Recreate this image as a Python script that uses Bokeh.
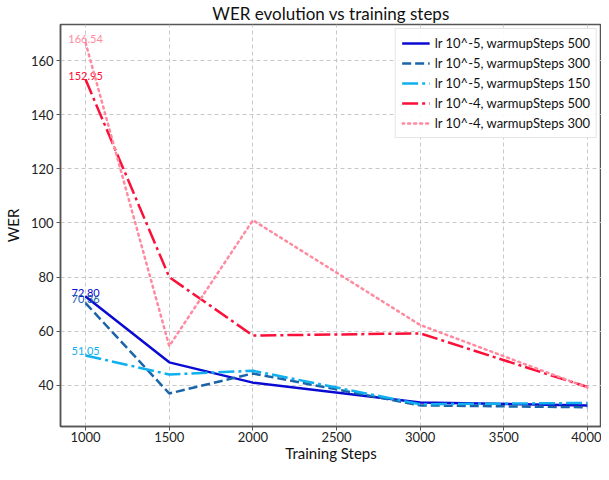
from bokeh.plotting import figure
from bokeh.models import Range1d, ColumnDataSource, Legend, LegendItem
from bokeh.core.properties import value
from bokeh.embed import file_html
from bokeh.resources import INLINE

steps = [1000, 1500, 2000, 3000, 4000]
wer_5_500 = [72.80, 48.5, 41.0, 33.7, 32.6]
wer_5_300 = [70.36, 37.0, 44.4, 32.6, 31.9]
wer_5_150 = [51.05, 44.0, 45.4, 33.0, 33.5]
wer_4_500 = [152.95, 80.0, 58.4, 59.2, 39.4]
wer_4_300 = [166.54, 54.5, 101.0, 62.3, 39.2]

labels = ["lr 10^-5, warmupSteps 500", "lr 10^-5, warmupSteps 300",
          "lr 10^-5, warmupSteps 150", "lr 10^-4, warmupSteps 500",
          "lr 10^-4, warmupSteps 300"]
series = [wer_5_500, wer_5_300, wer_5_150, wer_4_500, wer_4_300]
colors = ["#0a0ad2", "#1a64aa", "#10b0ee", "#fa1038", "#ff8aa0"]
dashes = ["solid", "9 4", "16 4 3 4", "16 4 3 4", "2 4"]

FONT = "Lato"

p = figure(width=601, height=464, output_backend="svg", toolbar_location=None,
           x_range=Range1d(850, 4084), y_range=Range1d(24.8, 173.3),
           title="WER evolution vs training steps",
           min_border_left=0, min_border_right=0, min_border_top=0, min_border_bottom=0)

p.title.align = "center"
p.title.text_font = FONT
p.title.text_font_size = "17px"
p.title.text_font_style = "normal"
p.title.text_color = "#111111"
p.title.offset = 0
p.title.standoff = 1

for ax in (p.xaxis, p.yaxis):
    ax.axis_label_text_font = FONT
    ax.axis_label_text_font_size = "15px"
    ax.axis_label_text_font_style = "normal"
    ax.axis_label_text_color = "#111111"
    ax.major_label_text_font = FONT
    ax.major_label_text_font_size = "13px"
    ax.major_label_text_color = "#222222"
    ax.axis_line_color = "#555555"
    ax.axis_line_width = 1.5
    ax.major_tick_line_color = "#555555"
    ax.major_tick_in = 0
    ax.major_tick_out = 4
    ax.minor_tick_line_color = None
    ax.major_label_standoff = 3

p.xaxis.axis_label = "Training Steps"
p.yaxis.axis_label = "WER"
p.xaxis.major_label_standoff = 1
p.xaxis.axis_label_standoff = -1
p.yaxis.axis_label_standoff = 6
p.xaxis.ticker = [1000, 1500, 2000, 2500, 3000, 3500, 4000]
p.yaxis.ticker = [40, 60, 80, 100, 120, 140, 160]

p.outline_line_color = "#555555"
p.outline_line_width = 1.5

for g in (p.xgrid, p.ygrid):
    g.grid_line_color = "#c8c8c8"
    g.grid_line_dash = "4 3"
    g.grid_line_width = 1

items = []
for s, lab, c, d in zip(series, labels, colors, dashes):
    r = p.line(steps, s, line_color=c, line_width=2.5, line_dash=d,
               line_cap="round" if d == "2 4" else "butt")
    items.append(LegendItem(label=lab, renderers=[r]))
    src = ColumnDataSource(dict(x=[steps[0]], y=[s[0]], t=[f"{s[0]:.2f}"]))
    p.text(x="x", y="y", text="t", source=src, text_color=c,
           text_align="center", text_baseline="bottom",
           text_font=value(FONT), text_font_size="11px")

legend = Legend(items=items, location="top_right")
legend.label_text_font = FONT
legend.label_text_font_size = "13px"
legend.label_text_color = "#111111"
legend.glyph_width = 28
legend.glyph_height = 14
legend.label_height = 13
legend.spacing = 4
legend.padding = 6
legend.margin = 4
legend.border_line_color = "#cccccc"
legend.border_line_width = 1
legend.background_fill_alpha = 0.9
p.add_layout(legend)

open("out.html", "w").write(file_html(p, INLINE))
